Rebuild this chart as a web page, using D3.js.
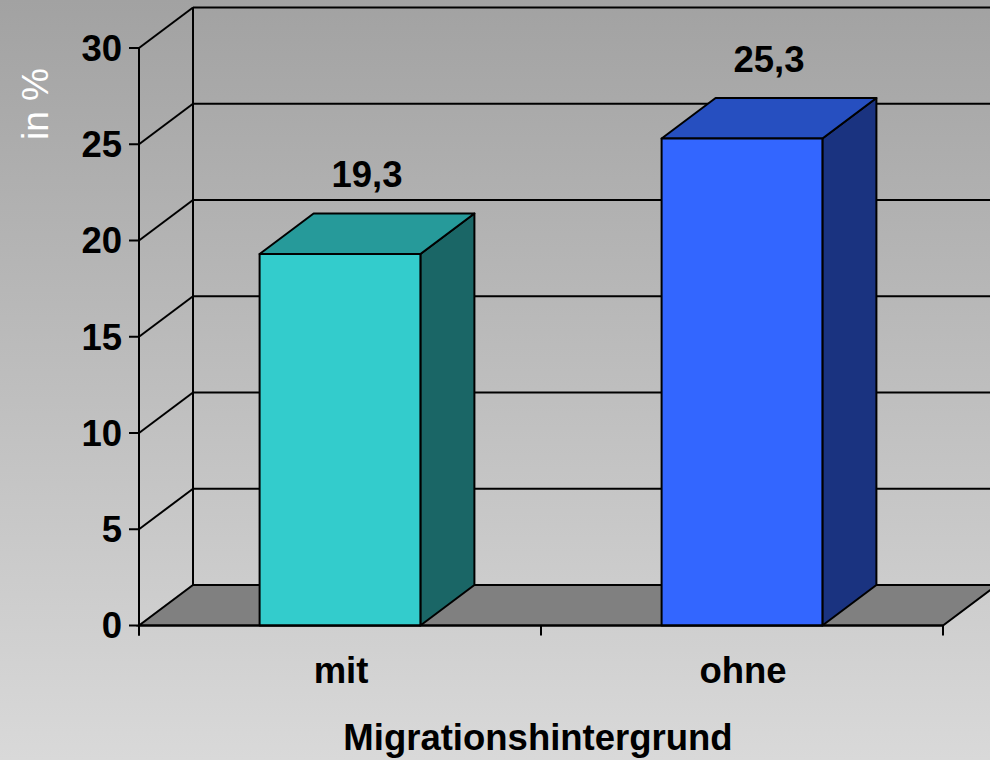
<!DOCTYPE html>
<html><head><meta charset="utf-8">
<script src="https://cdn.jsdelivr.net/npm/d3@7"></script>
<style>html,body{margin:0;padding:0;background:#c0c0c0;}svg{display:block;}</style>
</head><body>
<svg id="c" width="990" height="760"></svg>
<script>
const categories = ["mit", "ohne"];
const values = [19.3, 25.3];
const valueLabels = ["19,3", "25,3"];
const yTicks = [0, 5, 10, 15, 20, 25, 30];
const frontColors = ["#33cccc", "#3366ff"];
const topColors = ["#269a9a", "#264fc0"];
const sideColors = ["#1a6666", "#1a3380"];
const yTitle = "in %";
const xTitle = "Migrationshintergrund";

const svg = d3.select("#c");
const W = 990, H = 760;
const font = "Arial, 'Liberation Sans', sans-serif";
const fs = 36.5;
const dx = 54, dy = 40.5;

const defs = svg.append("defs");
const g0 = defs.append("linearGradient").attr("id","bg").attr("x1",0).attr("y1",0).attr("x2",0).attr("y2",1);
g0.append("stop").attr("offset","0%").attr("stop-color","#a2a2a2");
g0.append("stop").attr("offset","100%").attr("stop-color","#d9d9d9");
svg.append("rect").attr("width",W).attr("height",H).attr("fill","url(#bg)");

const y = d3.scaleLinear().domain([0,30]).range([625.5, 48]);
const x = d3.scaleBand().domain(categories).range([139, 943]).paddingInner(0.6).paddingOuter(0.3);
const x0 = 139, x1 = 943;

const line = (a,b,c,d,sw=2) => svg.append("line").attr("x1",a).attr("y1",b).attr("x2",c).attr("y2",d)
  .attr("stroke","#000").attr("stroke-width",sw);

yTicks.forEach(t => {
  if (t > 0) {
    line(x0, y(t), x0+dx, y(t)-dy);
    line(x0+dx, y(t)-dy, x1+dx, y(t)-dy);
  }
});
line(x0+dx, y(30)-dy, x0+dx, y(0)-dy);

svg.append("path")
  .attr("d", `M${x0},${y(0)} L${x1},${y(0)} L${x1+dx},${y(0)-dy} L${x0+dx},${y(0)-dy} Z`)
  .attr("fill","#808080").attr("stroke","#000").attr("stroke-width",2);

categories.forEach((c,i) => {
  const bx = x(c), bw = x.bandwidth(), by = y(values[i]), b0 = y(0);
  const g = svg.append("g").attr("stroke","#000").attr("stroke-width",2).attr("stroke-linejoin","round");
  g.append("path").attr("d",`M${bx+bw},${b0} L${bx+bw+dx},${b0-dy} L${bx+bw+dx},${by-dy} L${bx+bw},${by} Z`).attr("fill",sideColors[i]);
  g.append("path").attr("d",`M${bx},${by} L${bx+dx},${by-dy} L${bx+bw+dx},${by-dy} L${bx+bw},${by} Z`).attr("fill",topColors[i]);
  g.append("rect").attr("x",bx).attr("y",by).attr("width",bw).attr("height",b0-by).attr("fill",frontColors[i]);
  svg.append("text").attr("x", bx + bw/2 + dx/2).attr("y", by - dy - 26)
    .attr("text-anchor","middle").attr("font-family",font).attr("font-weight","bold")
    .attr("font-size",fs).attr("fill","#000").text(valueLabels[i]);
});

line(x0, y(30), x0, y(0)+10);
line(x0, y(0), x1, y(0));
yTicks.forEach(t => {
  line(x0-10, y(t), x0, y(t));
  svg.append("text").attr("x", 122).attr("y", y(t)).attr("dy","0.35em")
    .attr("text-anchor","end").attr("font-family",font).attr("font-weight","bold")
    .attr("font-size",fs).attr("fill","#000").text(t);
});
const xb = [x0, (x0+x1)/2, x1];
xb.forEach(v => line(v, y(0), v, y(0)+10));
categories.forEach(c => {
  svg.append("text").attr("x", x(c)+x.bandwidth()/2 + 1).attr("y", 683)
    .attr("text-anchor","middle").attr("font-family",font).attr("font-weight","bold")
    .attr("font-size",fs).attr("fill","#000").text(c);
});
svg.append("text").attr("x", 538).attr("y", 750)
  .attr("text-anchor","middle").attr("font-family",font).attr("font-weight","bold")
  .attr("font-size",fs).attr("fill","#000").text(xTitle);
svg.append("text").attr("transform","translate(48,104) rotate(-90)")
  .attr("text-anchor","middle").attr("font-family",font)
  .attr("font-size",37).attr("fill","#fff").text(yTitle);
</script>
</body></html>
